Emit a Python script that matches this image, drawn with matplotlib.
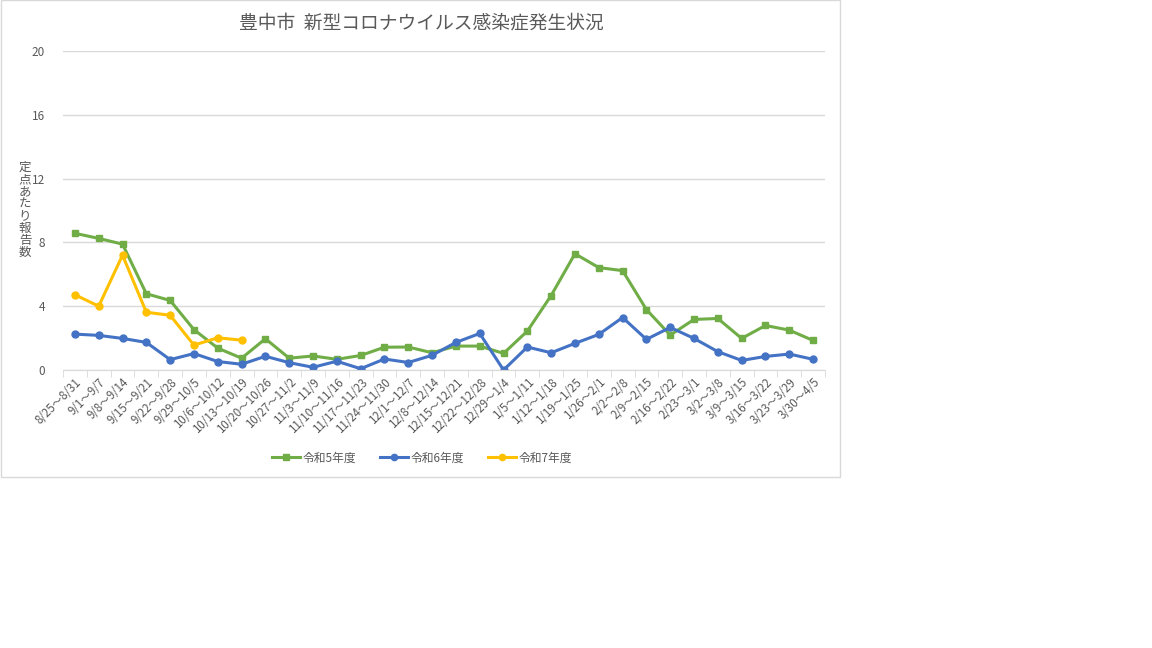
import matplotlib
matplotlib.use("Agg")
import matplotlib.pyplot as plt
from matplotlib.patches import Rectangle

plt.rcParams['font.family'] = ['Noto Sans CJK JP', 'DejaVu Sans']

weeks = ["8/25~8/31", "9/1~9/7", "9/8~9/14", "9/15~9/21", "9/22~9/28", "9/29~10/5",
         "10/6~10/12", "10/13~10/19", "10/20~10/26", "10/27~11/2", "11/3~11/9",
         "11/10~11/16", "11/17~11/23", "11/24~11/30", "12/1~12/7", "12/8~12/14",
         "12/15~12/21", "12/22~12/28", "12/29~1/4", "1/5~1/11", "1/12~1/18",
         "1/19~1/25", "1/26~2/1", "2/2~2/8", "2/9~2/15", "2/16~2/22", "2/23~3/1",
         "3/2~3/8", "3/9~3/15", "3/16~3/22", "3/23~3/29", "3/30~4/5"]
weeks = [w.replace("~", "～") for w in weeks]

r5 = [8.57, 8.25, 7.89, 4.78, 4.36, 2.53, 1.37, 0.74, 1.96, 0.74, 0.88, 0.67,
      0.91, 1.43, 1.44, 1.08, 1.50, 1.50, 1.04, 2.44, 4.67, 7.29, 6.42, 6.23,
      3.79, 2.19, 3.17, 3.23, 1.98, 2.79, 2.50, 1.85]
r6 = [2.25, 2.17, 1.98, 1.73, 0.65, 1.03, 0.53, 0.36, 0.86, 0.46, 0.17, 0.55,
      0.08, 0.69, 0.47, 0.92, 1.73, 2.29, 0.00, 1.44, 1.08, 1.67, 2.23, 3.29,
      1.92, 2.67, 1.98, 1.15, 0.60, 0.85, 1.00, 0.67]
r7 = [4.72, 4.00, 7.20, 3.62, 3.43, 1.56, 2.02, 1.87]

txt = '#595959'
fig = plt.figure(figsize=(11.52, 6.48), dpi=100)
# chart area border (Excel style)
fig.patches.append(Rectangle((0.5/1152, 1 - 477/648), 839/1152, 477/648 - 0.5/648,
                             transform=fig.transFigure, fill=False,
                             edgecolor='#d9d9d9', linewidth=1))

ax = fig.add_axes([63/1152, 1 - 370/648, 762/1152, 319/648])
x = list(range(len(weeks)))
ax.plot(x, r5, color='#70AD47', lw=2.2, marker='s', ms=5, label='令和5年度')
ax.plot(x, r6, color='#4472C4', lw=2.2, marker='o', ms=5, label='令和6年度')
ax.plot(x[:len(r7)], r7, color='#FFC000', lw=2.2, marker='o', ms=5, label='令和7年度')

ax.set_xlim(-0.5, len(weeks) - 0.5)
ax.set_ylim(0, 20)
ax.set_yticks(range(0, 21, 4))
ax.grid(axis='y', color='#d9d9d9', lw=1)
ax.set_axisbelow(True)
for s in ['top', 'right', 'left']:
    ax.spines[s].set_visible(False)
ax.spines['bottom'].set_color('#d9d9d9')
ax.tick_params(axis='y', length=0, labelsize=8.5, labelcolor=txt, pad=13)
ax.set_xticks(x)
ax.set_xticklabels(weeks, rotation=45, ha='right', rotation_mode='anchor',
                   fontsize=8.3, color=txt)
ax.tick_params(axis='x', length=0, pad=4)
ax.set_xticks([i - 0.5 for i in range(len(weeks) + 1)], minor=True)
ax.tick_params(axis='x', which='minor', length=5, color='#d9d9d9')

fig.text(421/1152, 1 - 23/648, '豊中市  新型コロナウイルス感染症発生状況',
         ha='center', va='center', fontsize=13.5, color=txt)
fig.text(25/1152, 1 - 210/648, '\n'.join('定点あたり報告数'), ha='center', va='center',
         fontsize=9, color=txt, linespacing=0.92)

fig.legend(loc='center', bbox_to_anchor=(422/1152, 1 - 458/648), ncol=3, frameon=False,
           fontsize=8.5, labelcolor=txt, handlelength=2.4, columnspacing=2.0,
           handletextpad=0.2, markerscale=0.9)

fig.savefig('out.png', dpi=100, facecolor='white')
